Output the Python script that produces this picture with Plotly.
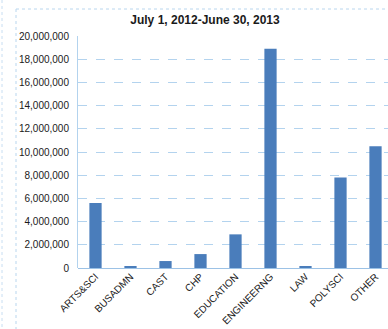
import plotly.graph_objects as go

categories = ["ARTS&SCI", "BUSADMN", "CAST", "CHP", "EDUCATION", "ENGINEERNG", "LAW", "POLYSCI", "OTHER"]
values = [5600000, 100000, 600000, 1200000, 2900000, 18900000, 150000, 7800000, 10500000]
y_ticks = [0, 2000000, 4000000, 6000000, 8000000, 10000000, 12000000, 14000000, 16000000, 18000000, 20000000]
y_tick_labels = ["0", "2,000,000", "4,000,000", "6,000,000", "8,000,000", "10,000,000",
                 "12,000,000", "14,000,000", "16,000,000", "18,000,000", "20,000,000"]
title_text = "July 1, 2012-June 30, 2013"

W, H = 388, 329
L, T, B = 78, 36, 61
R = 0
pw = W - L - R
ph = H - T - B

def px(x):
    return (x - L) / pw

def py(y):
    return (H - B - y) / ph

fig = go.Figure(go.Bar(
    x=list(range(len(categories))), y=values,
    marker=dict(color="#4a7dbb", line=dict(width=0)),
    width=0.35,
))

fig.update_layout(
    width=W, height=H,
    margin=dict(l=L, r=R, t=T, b=B),
    paper_bgcolor="white", plot_bgcolor="white",
    showlegend=False,
    font=dict(family="Liberation Sans, Arial, sans-serif", color="#1a1a1a", size=10),
    title=dict(text="<b>" + title_text + "</b>", x=px(205), xref="paper", xanchor="center",
               y=1 - 20 / H, yanchor="middle", font=dict(size=12, color="#1a1a1a")),
    xaxis=dict(
        range=[-0.5, -0.5 + pw / 35.0],
        tickmode="array", tickvals=list(range(len(categories))), ticktext=categories,
        tickangle=-45, tickfont=dict(size=10),
        showgrid=False, zeroline=False,
        showline=False, ticks="",
    ),
    yaxis=dict(
        range=[0, 20000000],
        tickmode="array", tickvals=y_ticks, ticktext=y_tick_labels,
        tickfont=dict(size=10), ticklabelstandoff=6,
        showgrid=True, gridcolor="#b3d3ee", griddash="dash", gridwidth=1,
        zeroline=True, zerolinecolor="#9cc2e6", zerolinewidth=1,
        showline=True, linecolor="#b3d3ee", linewidth=1,
        ticks="", ticklen=0,
    ),
    shapes=[
        dict(type="line", xref="paper", yref="paper", x0=px(16), x1=px(16), y0=py(9), y1=py(329),
             line=dict(color="#b9d6ee", width=1, dash="dot")),
        dict(type="line", xref="paper", yref="paper", x0=px(16), x1=px(388), y0=py(9), y1=py(9),
             line=dict(color="#b9d6ee", width=1, dash="dot")),
        dict(type="line", xref="paper", yref="paper", x0=px(2), x1=px(2), y0=py(0), y1=py(329),
             line=dict(color="#c8def2", width=1, dash="dot")),
    ],
)

fig.write_html("out.html", config={"displayModeBar": False},
               post_script="document.body.style.margin='0';document.body.style.overflow='hidden';document.documentElement.style.overflow='hidden';")
